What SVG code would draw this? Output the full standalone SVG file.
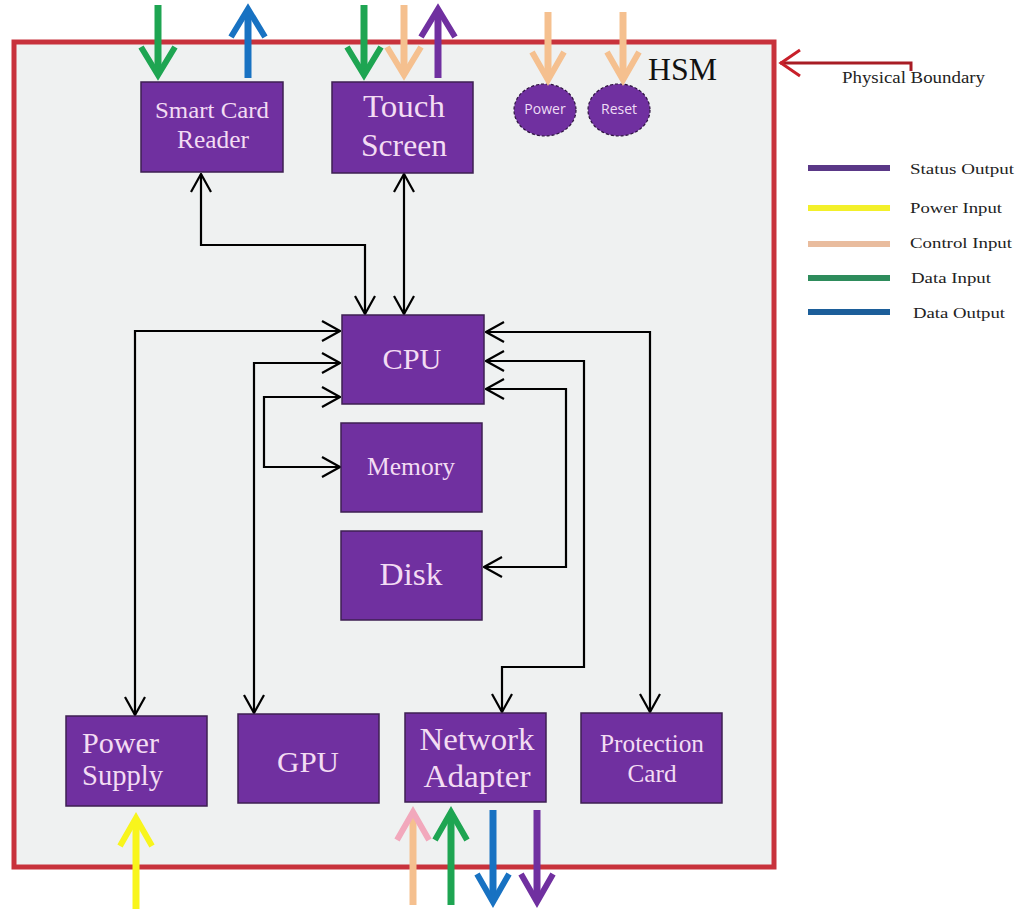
<svg xmlns="http://www.w3.org/2000/svg" width="1020" height="909" viewBox="0 0 1020 909">
<style>
.box{fill:#7030a0;stroke:#3e1f52;stroke-width:1.5}
.lbl{font-family:"Liberation Serif",serif;fill:#f3dcf3;text-anchor:middle}
.ell{fill:#7030a0;stroke:#2d1240;stroke-width:1.2;stroke-dasharray:3 2}
.etx{font-family:"Open Sans","DejaVu Sans",sans-serif;font-size:14px;fill:#eedcf5;text-anchor:middle}
.con{fill:none;stroke:#000;stroke-width:2.2;marker-start:url(#ah);marker-end:url(#ah)}
.io{fill:none;stroke-width:7}
.hd{fill:none;stroke-width:6}
.leg{font-family:"Liberation Serif",serif;font-size:15px;fill:#222}
</style>
<defs>
<marker id="ah" viewBox="0 0 20 24" refX="19" refY="12" markerWidth="20" markerHeight="24" markerUnits="userSpaceOnUse" orient="auto-start-reverse">
<path d="M1,2 L19,12 L1,22" fill="none" stroke="#000" stroke-width="2.2"/>
</marker>
</defs>
<rect x="0" y="0" width="1020" height="909" fill="#ffffff"/>
<g id="boundary">
<rect x="14" y="42" width="760" height="825" fill="#eff1f1" stroke="#c8323c" stroke-width="5"/>
<text x="648" y="80" font-family="Liberation Serif,serif" font-size="31" fill="#111" textLength="69" lengthAdjust="spacingAndGlyphs">HSM</text>
</g>
<g id="physical-boundary">
<path d="M780,63 H911 V71" fill="none" stroke="#a81c24" stroke-width="3"/>
<path d="M800,50 L781,63 L800,76" fill="none" stroke="#c8202a" stroke-width="3"/>
<text x="842" y="83" font-family="Liberation Serif,serif" font-size="16" fill="#222" textLength="143" lengthAdjust="spacingAndGlyphs">Physical Boundary</text>
</g>
<g id="legend">
<line x1="808" y1="168" x2="890" y2="168" stroke="#5a3887" stroke-width="6"/>
<text class="leg" x="910" y="174" textLength="104" lengthAdjust="spacingAndGlyphs">Status Output</text>
<line x1="808" y1="208" x2="890" y2="208" stroke="#f3f02a" stroke-width="6"/>
<text class="leg" x="910" y="213" textLength="92" lengthAdjust="spacingAndGlyphs">Power Input</text>
<line x1="808" y1="244" x2="890" y2="244" stroke="#e9bc9e" stroke-width="6"/>
<text class="leg" x="910" y="248" textLength="102" lengthAdjust="spacingAndGlyphs">Control Input</text>
<line x1="808" y1="278" x2="890" y2="278" stroke="#2e8c5c" stroke-width="6"/>
<text class="leg" x="911" y="283" textLength="80" lengthAdjust="spacingAndGlyphs">Data Input</text>
<line x1="808" y1="312" x2="890" y2="312" stroke="#1c5e9a" stroke-width="6"/>
<text class="leg" x="913" y="318" textLength="92" lengthAdjust="spacingAndGlyphs">Data Output</text>
</g>
<g id="connectors">
<path class="con" d="M201,174 V245 H365 V314"/>
<path class="con" d="M404,174 V314"/>
<path class="con" d="M340,331 H135 V715"/>
<path class="con" d="M340,363 H254 V713"/>
<path class="con" d="M340,397 H264 V467 H340"/>
<path class="con" d="M486,332 H650 V712"/>
<path class="con" d="M486,361 H584 V667 H502 V712"/>
<path class="con" d="M486,389 H566 V567 H484"/>
</g>
<g id="smart-card-reader">
<rect class="box" x="141" y="82" width="142" height="90"/>
<text class="lbl" x="212" y="118" font-size="24" textLength="114" lengthAdjust="spacingAndGlyphs">Smart Card</text>
<text class="lbl" x="213" y="148" font-size="25" textLength="72" lengthAdjust="spacingAndGlyphs">Reader</text>
</g>
<g id="touch-screen">
<rect class="box" x="332" y="82" width="141" height="91"/>
<text class="lbl" x="404" y="117" font-size="31" textLength="82" lengthAdjust="spacingAndGlyphs">Touch</text>
<text class="lbl" x="404" y="156" font-size="31" textLength="86" lengthAdjust="spacingAndGlyphs">Screen</text>
</g>
<g id="power-button">
<ellipse class="ell" cx="545" cy="110" rx="31" ry="26"/>
<text class="etx" x="545" y="114">Power</text>
</g>
<g id="reset-button">
<ellipse class="ell" cx="619" cy="110" rx="31" ry="26"/>
<text class="etx" x="619" y="114">Reset</text>
</g>
<g id="cpu">
<rect class="box" x="342" y="315" width="142" height="89"/>
<text class="lbl" x="412" y="369" font-size="30" textLength="59" lengthAdjust="spacingAndGlyphs">CPU</text>
</g>
<g id="memory">
<rect class="box" x="341" y="423" width="141" height="89"/>
<text class="lbl" x="411" y="475" font-size="25" textLength="88" lengthAdjust="spacingAndGlyphs">Memory</text>
</g>
<g id="disk">
<rect class="box" x="341" y="531" width="141" height="89"/>
<text class="lbl" x="411" y="585" font-size="32" textLength="63" lengthAdjust="spacingAndGlyphs">Disk</text>
</g>
<g id="power-supply">
<rect class="box" x="66" y="716" width="141" height="90"/>
<text class="lbl" x="82" y="753" font-size="29" style="text-anchor:start" textLength="77" lengthAdjust="spacingAndGlyphs">Power</text>
<text class="lbl" x="82" y="785" font-size="29" style="text-anchor:start" textLength="81" lengthAdjust="spacingAndGlyphs">Supply</text>
</g>
<g id="gpu">
<rect class="box" x="238" y="714" width="141" height="89"/>
<text class="lbl" x="308" y="772" font-size="30" textLength="62" lengthAdjust="spacingAndGlyphs">GPU</text>
</g>
<g id="network-adapter">
<rect class="box" x="405" y="713" width="141" height="89"/>
<text class="lbl" x="477" y="750" font-size="32" textLength="115" lengthAdjust="spacingAndGlyphs">Network</text>
<text class="lbl" x="477" y="787" font-size="32" textLength="107" lengthAdjust="spacingAndGlyphs">Adapter</text>
</g>
<g id="protection-card">
<rect class="box" x="581" y="713" width="141" height="90"/>
<text class="lbl" x="652" y="752" font-size="25" textLength="104" lengthAdjust="spacingAndGlyphs">Protection</text>
<text class="lbl" x="652" y="782" font-size="25" textLength="49" lengthAdjust="spacingAndGlyphs">Card</text>
</g>
<g id="io-arrows">
<path class="io" stroke="#1ea552" d="M158,5 V74"/><path class="hd" stroke="#1ea552" d="M141,47 L158,75 L175,47"/>
<path class="io" stroke="#1872c2" d="M248,78 V10"/><path class="hd" stroke="#1872c2" d="M231,37 L248,9 L265,37"/>
<path class="io" stroke="#1ea552" d="M364,5 V74"/><path class="hd" stroke="#1ea552" d="M347,47 L364,75 L381,47"/>
<path class="io" stroke="#f5c08f" d="M404,5 V74"/><path class="hd" stroke="#f5c08f" d="M387,47 L404,75 L421,47"/>
<path class="io" stroke="#7030a0" d="M438,78 V10"/><path class="hd" stroke="#7030a0" d="M421,37 L438,9 L455,37"/>
<path class="io" stroke="#f5c08f" d="M548,12 V79"/><path class="hd" stroke="#f5c08f" d="M532,52 L548,80 L564,52"/>
<path class="io" stroke="#f5c08f" d="M623,12 V79"/><path class="hd" stroke="#f5c08f" d="M607,52 L623,80 L639,52"/>
<path class="io" stroke="#f8f51c" d="M136,909 V820"/><path class="hd" stroke="#f8f51c" d="M120,846 L136,818 L152,846"/>
<path class="io" stroke="#f5c08f" d="M413,905 V814"/><path class="hd" stroke="#f2a8bc" d="M397,840 L413,812 L429,840"/>
<path class="io" stroke="#1ea552" d="M451,905 V814"/><path class="hd" stroke="#1ea552" d="M435,840 L451,812 L467,840"/>
<path class="io" stroke="#1872c2" d="M493,810 V900"/><path class="hd" stroke="#1872c2" d="M477,874 L493,902 L509,874"/>
<path class="io" stroke="#7030a0" d="M537,810 V900"/><path class="hd" stroke="#7030a0" d="M521,874 L537,902 L553,874"/>
</g>
</svg>
